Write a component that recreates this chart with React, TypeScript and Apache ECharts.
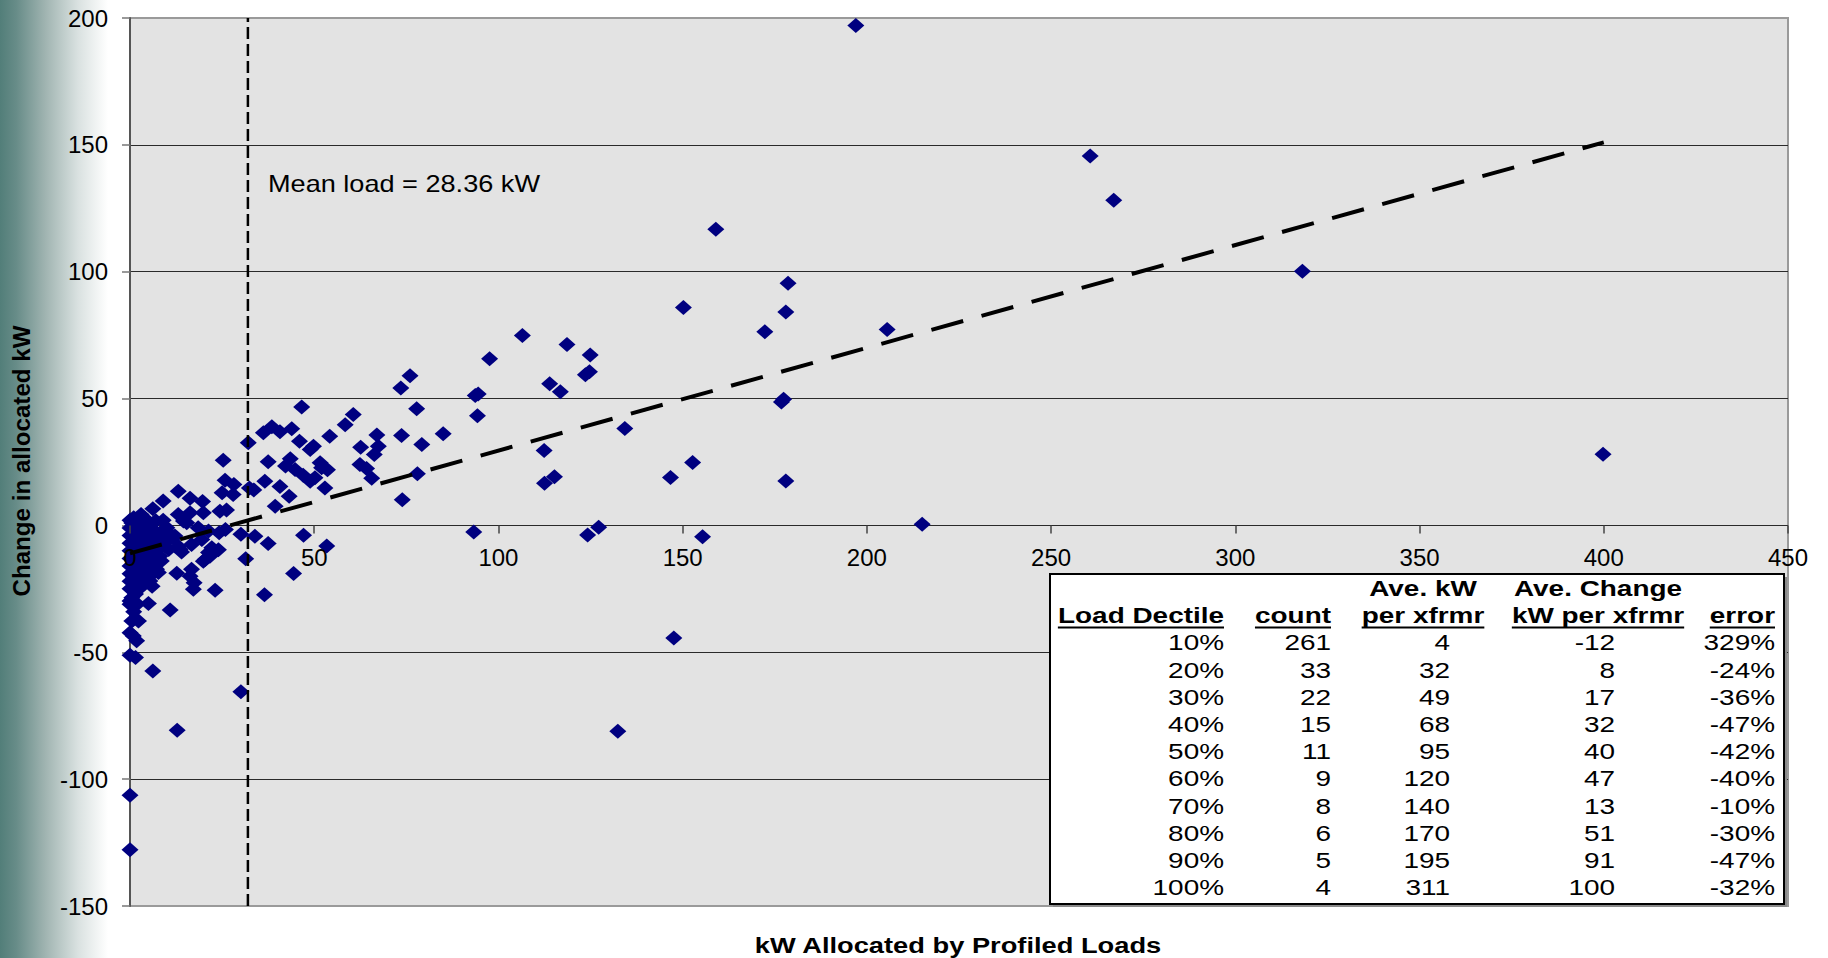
import React, { useEffect, useRef } from "react";
import * as echarts from "echarts";

// ---------- data ----------
const xMax = 450;
const yMin = -150;
const yMax = 200;

// [kW allocated by profiled loads, change in allocated kW]
const scatterPoints: [number, number][] = [
  [197, 197], [260.6, 145.6], [267, 128.2], [159, 116.7], [178.6, 95.5], [150.2, 85.9],
  [178, 84.1], [318.2, 100.2], [205.5, 77.2], [172.3, 76.3], [177.4, 49.7], [176.8, 48.6],
  [178, 17.5], [399.8, 28.1], [215, 0.5], [155.4, -4.5], [147.6, -44.4], [132.4, -81.1],
  [152.7, 24.8], [146.7, 18.9], [134.3, 38.2], [127.2, -0.7], [124.2, -3.8], [124.9, 67.2],
  [123.6, 59.4], [124.7, 60.6], [118.6, 71.3], [113.9, 55.8], [116.8, 52.7], [106.5, 74.9],
  [112.4, 29.5], [115.2, 19.2], [112.5, 16.6], [97.6, 65.7], [93.7, 51.2], [94.5, 51.8],
  [94.3, 43.2], [93.3, -2.6], [85, 36.1], [79.2, 31.9], [77.8, 46], [76, 59], [73.5, 54.2],
  [73.7, 35.4], [73.9, 10.1], [78, 20.4], [67, 35.6], [67.4, 31.2], [66.3, 28], [62.6, 30.8],
  [60.6, 43.7], [58.4, 39.7], [54.2, 35.1], [62.4, 24], [64.2, 22.4], [65.6, 18.6],
  [53.4, -8.1], [52.9, 14.8], [51.6, 24.7], [53.6, 21.9],
  [46.6, 46.7], [36.2, 36.5], [38.5, 38.9], [40.7, 36.9], [43.9, 38.1], [46, 33.2],
  [48.9, 29.9], [49.8, 31.2], [32.1, 32.6], [25.3, 25.7], [37.5, 25.1], [43.5, 26.3],
  [42.2, 23.4], [44.8, 22], [47, 19.8], [48.9, 17.4], [50.2, 18.8], [52, 22.7], [36.6, 17.4],
  [40.7, 15.3], [43.2, 11.5], [39.4, 7.6], [25.8, 17.8], [28.2, 16.1], [28, 12.2], [25, 12.9],
  [32.4, 14.8], [33.6, 14], [24.4, 5.6], [26.2, 6.1], [25.9, -1.6], [30.1, -3.5], [33.9, -4.3],
  [37.5, -7.1], [31.4, -13.1], [47.1, -3.9], [44.4, -18.9], [36.5, -27.3],
  [13.1, 13.5], [16.3, 10.7], [19.7, 9.4], [9, 9.6], [6.2, 6.6], [3, 4.3], [13.1, 4.3],
  [16.3, 5], [15.4, 1.1], [18.5, -0.9], [21.3, -2.2], [24.2, -2.9], [14.5, 1.7], [19.9, 5],
  [10, -2.2], [12.2, -4.2], [13.1, -8.2], [14, -10.5], [19.5, -5.5], [16.7, -7.5], [13.6, -9.4],
  [24, -9.6], [21.3, -10.7], [20.4, -13.4], [21.7, -12.1], [19.9, -14.1], [22.2, -8.8],
  [16.7, -17.3], [16.3, -20], [12.7, -18.8], [17.4, -22.6], [17.2, -25.2], [23.1, -25.5],
  [10.9, -33.3], [5, -30.8], [8.1, -12.1], [6.3, -16], [7.7, -18.6], [5.4, -20], [3.6, -23.2],
  [4.5, -16.7], [7.2, -17.3], [5.4, -21.9], [11.8, -4.9], [9, -5.5], [7.2, -6.8], [3.6, -4.2],
  [10, -0.9], [6.2, -57.4], [12.8, -80.7], [30.1, -65.6],
  [0, -29.8], [0, -31.1], [0.5, -37.7], [2.3, -37.7], [0, -42.3], [0.9, -43.6], [1.8, -45.5],
  [0, -51.2], [1.5, -52.1], [0, -106.3], [0, -127.8],
  [0, 2], [0.5, 1], [1, 3], [2, 2.5], [3, 1.5], [4, 2.8], [5, 1], [6, 0.5], [7, 1.8],
  [0, -1], [1, -0.5], [1.5, -2], [2.5, -1], [3.5, -2.5], [4.5, -1.5], [5.5, -3], [6.5, -2],
  [7.5, -3.5], [0, -4], [0.8, -3.5], [2, -5], [3, -4.5], [4, -6], [5, -5.5], [6, -7], [7, -8],
  [8, -9], [0, -7], [1, -6.5], [2.5, -8], [3.5, -7.5], [4.5, -9], [5.5, -10], [6.5, -11],
  [0, -10], [1.2, -9.5], [2, -11], [3, -12], [4, -13], [5, -12.5], [0, -13], [0.8, -14],
  [2, -14.5], [3, -15.5], [4, -16.5], [0, -16], [1, -17], [2.2, -18], [3, -19], [0, -19],
  [1, -20.5], [2, -21.5], [0, -22], [1, -24], [2.5, -25], [0, -25], [1.5, -27], [0.5, -28.5],
  [2, -31], [1, -34], [8.5, -2.5], [9.5, -7], [10.5, -9.5], [8.5, -14], [6, -24], [9, 2],
];

const trendLine: [number, number][] = [[0, -11], [400, 151]];
const meanLoadX = 32; // position of the dashed mean line as drawn
const meanLabel = "Mean load = 28.36 kW";
const xTitle = "kW Allocated by Profiled Loads";
const yTitle = "Change in allocated kW";

// table
const headerTop = ["", "", "Ave. kW", "Ave. Change", ""];
const headerBottom = ["Load Dectile", "count", "per xfrmr", "kW per xfrmr", "error"];
const deciles = ["10%", "20%", "30%", "40%", "50%", "60%", "70%", "80%", "90%", "100%"];
const counts = [261, 33, 22, 15, 11, 9, 8, 6, 5, 4];
const aveKw = [4, 32, 49, 68, 95, 120, 140, 170, 195, 311];
const aveChange = [-12, 8, 17, 32, 40, 47, 13, 51, 91, 100];
const errors = ["329%", "-24%", "-36%", "-47%", "-42%", "-40%", "-10%", "-30%", "-47%", "-32%"];

// ---------- layout ----------
const FONT = '"Liberation Sans", Arial, Helvetica, sans-serif';
const W = 1828;
const H = 958;
const GRID_TOP = 18;
const GRID_BOTTOM = 52;
const GRID_H = H - GRID_TOP - GRID_BOTTOM;
const ZERO_OFFSET = (GRID_H * (0 - yMin)) / (yMax - yMin);

function measure(text: string, font: string): number {
  const ctx = document.createElement("canvas").getContext("2d");
  if (!ctx) return text.length * 12;
  ctx.font = font;
  return ctx.measureText(text).width;
}

function buildTable(): any[] {
  const els: any[] = [];
  const box = { x: 1050, y: 574, w: 734, h: 330 };
  const SX = 1.27;
  const fs = 22;
  els.push({
    type: "rect", z: 100,
    shape: { x: box.x + 3, y: box.y + 3, width: box.w, height: box.h },
    style: { fill: "#8a8a8a" },
  });
  els.push({
    type: "rect", z: 101,
    shape: { x: box.x, y: box.y, width: box.w, height: box.h },
    style: { fill: "#ffffff", stroke: "#000000", lineWidth: 2 },
  });
  const dataRight = [1224, 1331, 1450, 1615, 1775];
  const headerAnchor: [number, string][] = [
    [1224, "right"], [1331, "right"], [1423, "center"], [1598, "center"], [1775, "right"],
  ];
  const yH1 = 588;
  const yH2 = 615.5;
  const yRow0 = 642.5;
  const rowStep = 27.2;
  const boldFont = `bold ${fs}px ${FONT}`;
  const addText = (text: string, x: number, y: number, align: string, bold: boolean) => {
    els.push({
      type: "text", z: 102, x, y, scaleX: SX,
      style: {
        text, x: 0, y: 0, align, verticalAlign: "middle",
        fontSize: fs, fontFamily: FONT, fontWeight: bold ? "bold" : "normal", fill: "#000",
      },
    });
  };
  headerTop.forEach((t, i) => {
    if (t) addText(t, headerAnchor[i][0], yH1, headerAnchor[i][1], true);
  });
  headerBottom.forEach((t, i) => {
    const [ax, al] = headerAnchor[i];
    addText(t, ax, yH2, al, true);
    const w = measure(t, boldFont) * SX;
    const x1 = al === "right" ? ax - w : ax - w / 2;
    els.push({
      type: "line", z: 102,
      shape: { x1, y1: yH2 + 12, x2: x1 + w, y2: yH2 + 12 },
      style: { stroke: "#000", lineWidth: 2 },
    });
  });
  const cols = [deciles, counts, aveKw, aveChange, errors];
  for (let r = 0; r < deciles.length; r++) {
    cols.forEach((col, c) => {
      addText(String(col[r]), dataRight[c], yRow0 + r * rowStep, "right", false);
    });
  }
  return els;
}

export default function App() {
  const ref = useRef<HTMLDivElement>(null);

  useEffect(() => {
    if (!ref.current) return;
    const chart = echarts.init(ref.current, null, { renderer: "svg" });

    const graphic: any[] = [
      {
        type: "rect", z: -10, silent: true,
        shape: { x: 0, y: 0, width: 108, height: H },
        style: {
          fill: new echarts.graphic.LinearGradient(0, 0, 1, 0, [
            { offset: 0, color: "#527e79" },
            { offset: 0.15, color: "#678c88" },
            { offset: 0.42, color: "#a0b4b1" },
            { offset: 0.72, color: "#d9e1e0" },
            { offset: 1, color: "#ffffff" },
          ]),
        },
      },
      {
        type: "text", z: 50, x: 22, y: 461, rotation: Math.PI / 2, scaleX: 1.05,
        style: {
          text: yTitle, x: 0, y: 0, align: "center", verticalAlign: "middle",
          fontSize: 23, fontWeight: "bold", fontFamily: FONT, fill: "#000",
        },
      },
      {
        type: "text", z: 50, x: 958, y: 945, scaleX: 1.24,
        style: {
          text: xTitle, x: 0, y: 0, align: "center", verticalAlign: "middle",
          fontSize: 22, fontWeight: "bold", fontFamily: FONT, fill: "#000",
        },
      },
      {
        type: "text", z: 50, x: 268, y: 184, scaleX: 1.13,
        style: {
          text: meanLabel, x: 0, y: 0, align: "left", verticalAlign: "middle",
          fontSize: 24, fontFamily: FONT, fill: "#000",
        },
      },
      ...buildTable(),
    ];

    chart.setOption({
      animation: false,
      backgroundColor: "#ffffff",
      textStyle: { fontFamily: FONT },
      grid: {
        left: 130, right: 40, top: GRID_TOP, bottom: GRID_BOTTOM,
        show: true, backgroundColor: "#e3e3e3", borderColor: "#9a9a9a", borderWidth: 2,
        containLabel: false,
      },
      xAxis: {
        type: "value", min: 0, max: xMax, interval: 50,
        position: "bottom",
        offset: -ZERO_OFFSET,
        z: 10,
        axisLine: { show: false, onZero: false },
        axisTick: { show: true, inside: false, length: 8, lineStyle: { color: "#444", width: 1.5 } },
        axisLabel: { fontSize: 24, color: "#000", margin: 20, fontFamily: FONT },
        splitLine: { show: false },
      },
      yAxis: {
        type: "value", min: yMin, max: yMax, interval: 50,
        axisLine: { show: true, onZero: false, lineStyle: { color: "#555", width: 2 } },
        axisTick: { show: true, inside: false, length: 8, lineStyle: { color: "#777", width: 1.5 } },
        axisLabel: { fontSize: 24, color: "#000", margin: 22, fontFamily: FONT },
        splitLine: {
          show: true, showMinLine: false, showMaxLine: false,
          lineStyle: { color: "#2a2a2a", width: 1.2 },
        },
      },
      graphic,
      series: [
        {
          type: "scatter",
          data: scatterPoints,
          symbol: "diamond",
          symbolSize: [17, 15],
          itemStyle: { color: "#000080", opacity: 1 },
          clip: false,
          z: 3,
        },
        {
          type: "line",
          data: [[meanLoadX, yMin], [meanLoadX, yMax]],
          symbol: "none",
          lineStyle: { color: "#000", width: 2.5, type: [12, 5] },
          clip: false,
          z: 4,
        },
        {
          type: "line",
          data: trendLine,
          symbol: "none",
          lineStyle: { color: "#000", width: 4, type: [33, 19] },
          clip: false,
          z: 5,
        },
      ],
    });

    return () => chart.dispose();
  }, []);

  return (
    <div
      ref={ref}
      style={{ position: "fixed", left: 0, top: 0, width: W, height: H, background: "#fff" }}
    />
  );
}
